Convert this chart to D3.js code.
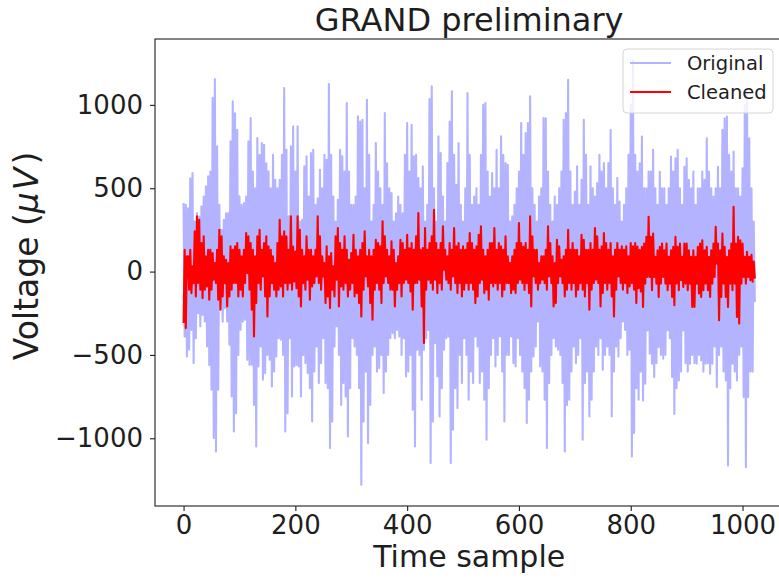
<!DOCTYPE html>
<html>
<head>
<meta charset="utf-8">
<script src="https://cdn.jsdelivr.net/npm/d3@7"></script>
<style>
    body { margin: 0; background: white; }
    svg { display: block; font-family: 'DejaVu Sans', sans-serif; }
</style>
</head>
<body>
<div id="chart"></div>
<script>
// Chart values
const titleText = 'GRAND preliminary'
const xLabelText = 'Time sample'
const seriesNames = ['Original', 'Cleaned']
const timeStep = 2   // one value every 2 time samples
const xTicks = [0, 200, 400, 600, 800, 1000]
const yTicks = [-1000, -500, 0, 500, 1000]

const original = [
    411,-389, 401,-509, 380,-469, 560,-350, 591,-549, 300,-400, 351,-250, 330,-329, 391,-260, 450,-300,
    511,-449, 571,-560, 600,-709, 1041,-999, 1155,-1079, 751,-709, 400,-200, 251,-300, 311,-219, 350,-300,
    351,-439, 781,-749, 1021,-959, 950,-850, 851,-500, 451,-349, 400,-300, 411,-289, 450,-529, 781,-559,
    921,-559, 600,-800, 500,-1049, 801,-569, 700,-450, 771,-649, 761,-609, 650,-500, 601,-529, 500,-689,
    701,-600, 550,-509, 500,-400, 551,-409, 700,-500, 1101,-959, 731,-850, 331,-400, 751,-749, 871,-569,
    600,-560,
    871,-569, 300,-749, 311,-500, 631,-549, 691,-609, 450,-700, 711,-899, 731,-600, 400,-450, 440,-669,
    611,-550, 500,-400, 700,-669, 671,-700, 1125,-1059, 700,-900, 450,-450, 300,-329, 431,-500, 731,-800,
    691,-669, 600,-750, 1011,-989, 600,-700, 400,-400, 400,-450, 450,-500, 931,-700, 900,-1279, 911,-900,
    500,-600, 1031,-1029, 700,-800, 300,-500, 400,-450, 771,-600, 600,-579, 500,-500, 400,-729, 951,-600,
    650,-500, 500,-399, 471,-369, 300,-400, 350,-350, 450,-389, 400,-500, 350,-400, 700,-629, 891,-600,
    600,-500,
    881,-829, 691,-1049, 701,-469, 561,-500, 500,-769, 631,-469, 300,-400, 400,-350, 1035,-1149, 1111,-900,
    500,-429, 300,-629, 811,-869, 711,-700, 450,-469, 300,-400, 651,-389, 900,-1149, 1081,-949, 700,-700,
    521,-819, 771,-500, 400,-669, 300,-400, 500,-500, 1071,-769, 700,-600, 400,-669, 450,-389, 500,-450,
    400,-669, 700,-600, 1001,-769, 1011,-1009, 600,-700, 450,-500, 591,-400, 500,-569, 731,-500, 500,-389,
    811,-600, 700,-899, 651,-500, 641,-500, 300,-389, 331,-549, 400,-569, 500,-400, 600,-500, 891,-600,
    700,-700,
    831,-909, 891,-769, 1051,-600, 500,-509, 400,-450, 300,-300, 450,-569, 500,-600, 921,-769, 920,-1059,
    600,-669, 400,-500, 300,-400, 450,-450, 400,-469, 500,-500, 600,-669, 911,-1079, 951,-800, 1151,-769,
    600,-600, 400,-450, 480,-549, 631,-500, 400,-400, 551,-1009, 911,-669, 700,-600, 400,-869, 631,-769,
    500,-600, 450,-450, 531,-500, 701,-400, 600,-589, 651,-500, 500,-450, 651,-500, 851,-869, 500,-600,
    400,-450, 561,-509, 420,-400, 300,-300, 400,-350, 500,-500, 700,-469, 1000,-1109, 1268,-969, 700,-700,
    600,-769, 650,-600,
    810,-774, 500,-673, 500,-353, 600,-493, 600,-553, 730,-633, 500,-550, 400,-453, 599,-500, 500,-523,
    500,-500, 400,-353, 500,-400, 690,-633, 600,-854, 680,-700, 730,-653, 500,-600, 400,-353, 629,-550,
    680,-600, 550,-553, 500,-500, 600,-550, 400,-553, 500,-500, 500,-533, 600,-600, 550,-553, 800,-550,
    600,-613, 500,-553, 450,-450, 500,-693, 629,-500, 500,-450, 850,-600, 920,-653, 930,-1164, 700,-700,
    600,-553, 720,-600, 500,-653, 500,-500, 450,-450, 620,-753, 1000,-1174, 1100,-753, 800,-600, 500,-600,
    300,-182
]

const cleaned = [
    -309,131, -339,91, 91,-109, 131,-129, 31,-69, 241,-149, 331,-69, 311,-109, 171,-159, 211,-109,
    91,-89, 131,-169, 131,-109, 111,-49, 51,-69, 131,-169, 251,-229, 211,-149, 91,-69, 71,-209,
    51,-149, 151,-109, 131,-69, 151,-69, 171,-149, 131,-109, 91,-149, 131,-69, 231,-9, 211,-109,
    171,-229, 131,-389, 91,-189, 211,-69, 251,-109, 131,-29, 171,-149, 211,-269, 151,-149, 131,-69,
    91,-109, 51,-149, 171,-109, 311,-89, 211,-149, 241,-69, 211,-109, 131,-69, 331,-109, 150,-60,
    120,-100,
    331,-149, 251,-209, 131,-69, 91,-109, 211,-49, 131,-169, 131,-89, 91,-69, 131,-29, 331,-69,
    211,-109, 91,-29, 51,-189, 151,-149, 91,-219, 111,-109, 31,-149, 211,-49, 261,-209, 171,-89,
    131,-109, 211,-69, 131,-149, 71,-109, 111,-69, 221,-149, 131,-129, 91,-189, 131,-269, 171,-109,
    241,-29, 91,-89, 131,-189, 91,-289, 131,-109, 191,-69, 171,-109, 151,-189, 301,-69, 211,-29,
    131,-69, 91,-109, 181,-109, 131,-209, 51,-109, 91,-69, 191,-149, 171,-69, 131,-49, 221,-69,
    140,-120,
    171,-229, 131,-69, 211,-69, 351,-49, 131,-209, 141,-429, 261,-109, 131,-49, 171,-69, 211,-109,
    371,-49, 171,-129, 131,-69, 171,-109, 271,11, 131,-49, 91,-69, 171,-109, 131,-29, 261,-69,
    151,-129, 171,-69, 131,-149, 151,-109, 131,-69, 171,-109, 231,-69, 171,-109, 131,-189, 151,-149,
    221,-69, 271,-49, 131,-129, 91,-109, 131,-169, 171,-69, 171,-89, 261,-69, 131,-109, 171,-69,
    151,-149, 131,-109, 211,-69, 91,-69, 51,-129, 91,-109, 131,-129, 171,-69, 291,-49, 171,-69,
    150,-110,
    171,-69, 131,-129, 331,-209, 211,-29, 131,-69, 131,-109, 51,-69, 91,-49, 91,-69, 131,-109,
    271,-29, 171,-69, 91,-209, 51,-189, 191,-69, 151,-29, 71,-69, 91,-149, 131,-109, 251,-69,
    131,-109, 171,-69, 131,-149, 131,-109, 91,-69, 221,-109, 191,-149, 131,-69, 131,-229, 171,-109,
    131,-69, 261,-49, 211,-69, 131,-209, 151,-129, 231,-69, 171,-109, 131,-69, 171,-149, 91,-269,
    131,-109, 171,-29, 131,-69, 151,-109, 131,-69, 151,-129, 91,-89, 171,-69, 151,-109, 171,-189,
    150,-100, 130,-120,
    148,-212, 168,-72, 208,-32, 329,-32, 208,-112, 228,-32, 88,-72, 128,-152, 148,-72, 168,-32,
    128,-72, 168,-112, 88,-72, 128,-152, 148,-202, 208,-72, 148,-112, 168,-52, 88,-92, 168,-72,
    168,-112, 128,-72, 88,-212, 128,-212, 88,-72, 148,-132, 168,-152, 188,-112, 128,-72, 148,-112,
    88,-152, 128,-72, 168,-32, 269,48, 168,-292, 128,-152, 228,-72, 148,-152, 88,-212, 128,-72,
    168,-112, 389,-72, 168,-272, 208,-312, 188,-72, 168,-32, 88,-72, 118,-32, 88,-52, 100,-60,
    60,-42
]

const seriesColors = ['rgb(179, 179, 255)', 'red']

function getTranslateString(x, y) {
    return 'translate(' + x + ', ' + y + ')'
}

class VoltageTraceChart {
    constructor(width, height, divElementName) {
        this.width = width
        this.height = height
        this.divElementName = divElementName
        this.textColor = '#1e1e1e'
        this.initialize()
    }

    initialize = () => {
        this.setAxesStartAndEnd()
        this.createSVGInstance(this.divElementName)
        this.createXScale()
        this.createYScale()
        this.drawTraces()
        this.drawSpines()
        this.createLabels()
        this.drawLegend()
    }

    setAxesStartAndEnd = () => {
        // the right spine falls just outside the picture, as in the reference
        this.xAxisStart = 155
        this.xAxisEnd = 783.4
        this.yAxisStart = 506
        this.yAxisEnd = 39
    }

    createSVGInstance = (divElement) => {
        this.svg = d3.select(divElement).append('svg').attr('width', this.width).attr('height', this.height)
        this.svg.append('rect').attr('width', this.width).attr('height', this.height).style('fill', 'white')
        this.svg.append('clipPath').attr('id', 'plot-area').append('rect')
            .attr('x', this.xAxisStart).attr('y', this.yAxisEnd)
            .attr('width', this.xAxisEnd - this.xAxisStart).attr('height', this.yAxisStart - this.yAxisEnd)
    }

    createXScale = () => {
        // matplotlib style 5% margin around the data
        let xMax = (original.length - 1) * timeStep
        let pad = xMax * 0.05
        this.xScale = d3.scaleLinear().domain([-pad, xMax + pad]).range([this.xAxisStart, this.xAxisEnd])
        this.xAxis = d3.axisBottom(this.xScale).tickValues(xTicks).tickFormat(d3.format('d'))
            .tickSize(5).tickPadding(5)
        let g = this.svg.append('g').attr('transform', getTranslateString(0, this.yAxisStart)).call(this.xAxis)
        this.styleAxis(g)
    }

    createYScale = () => {
        let [lo, hi] = d3.extent(original.concat(cleaned))
        let pad = (hi - lo) * 0.05
        this.yScale = d3.scaleLinear().domain([lo - pad, hi + pad]).range([this.yAxisStart, this.yAxisEnd])
        this.yAxis = d3.axisLeft(this.yScale).tickValues(yTicks).tickFormat(d3.format('d'))
            .tickSize(5).tickPadding(7)
        let g = this.svg.append('g').attr('transform', getTranslateString(this.xAxisStart, 0)).call(this.yAxis)
        this.styleAxis(g)
    }

    styleAxis = (g) => {
        g.select('.domain').remove()
        g.selectAll('.tick line').style('stroke', this.textColor).style('stroke-width', 1.1)
        g.selectAll('.tick text').style('fill', this.textColor).attr('font-size', 26)
            .attr('font-family', "'DejaVu Sans', sans-serif")
    }

    drawTraces = () => {
        let line = d3.line().x((d, i) => this.xScale(i * timeStep)).y(d => this.yScale(d))
        let traces = this.svg.append('g').attr('clip-path', 'url(#plot-area)')
        let series = [original, cleaned]
        for (let i = 0; i < series.length; i++) {
            traces.append('path').datum(series[i]).attr('d', line)
                .style('fill', 'none').style('stroke', seriesColors[i])
                .style('stroke-width', 2.1).style('stroke-linejoin', 'round')
        }
    }

    drawSpines = () => {
        this.svg.append('rect')
            .attr('x', this.xAxisStart).attr('y', this.yAxisEnd)
            .attr('width', this.xAxisEnd - this.xAxisStart).attr('height', this.yAxisStart - this.yAxisEnd)
            .style('fill', 'none').style('stroke', this.textColor).style('stroke-width', 1.1)
    }

    createLabel = (x, y, label, fontsize) => {
        return this.svg.append('text').attr('x', x).attr('y', y).text(label)
            .attr('font-size', fontsize).attr('text-anchor', 'middle').style('fill', this.textColor)
    }

    createLabels = () => {
        let xMid = (this.xAxisStart + this.xAxisEnd) / 2
        this.createLabel(xMid, 31, titleText, 32)
        this.createLabel(xMid, 567, xLabelText, 30)

        // y label; the math part (μV) is set a little wider, like mathtext
        let yLabel = this.svg.append('text').attr('transform', getTranslateString(38, 256) + ' rotate(-90)')
            .attr('text-anchor', 'middle').attr('font-size', 33).style('fill', this.textColor)
        yLabel.append('tspan').text('Voltage (')
        yLabel.append('tspan').text('μV').style('font-style', 'italic').attr('letter-spacing', 2)
        yLabel.append('tspan').text(')').attr('dx', 1)
    }

    drawLegend = () => {
        let legend = this.svg.append('g').attr('transform', getTranslateString(623, 49))
        legend.append('rect').attr('width', 150).attr('height', 64).attr('rx', 4)
            .style('fill', 'white').style('fill-opacity', 0.8)
            .style('stroke', '#d6d6d6').style('stroke-width', 1)
        for (let i = 0; i < seriesNames.length; i++) {
            let y = 14 + i * 29
            legend.append('line').attr('x1', 7).attr('x2', 48).attr('y1', y).attr('y2', y)
                .style('stroke', seriesColors[i]).style('stroke-width', 2.1)
            legend.append('text').attr('x', 64).attr('y', y + 7).text(seriesNames[i])
                .attr('font-size', 19.5).style('fill', this.textColor)
        }
    }
}

new VoltageTraceChart(779, 579, '#chart')
</script>
</body>
</html>
